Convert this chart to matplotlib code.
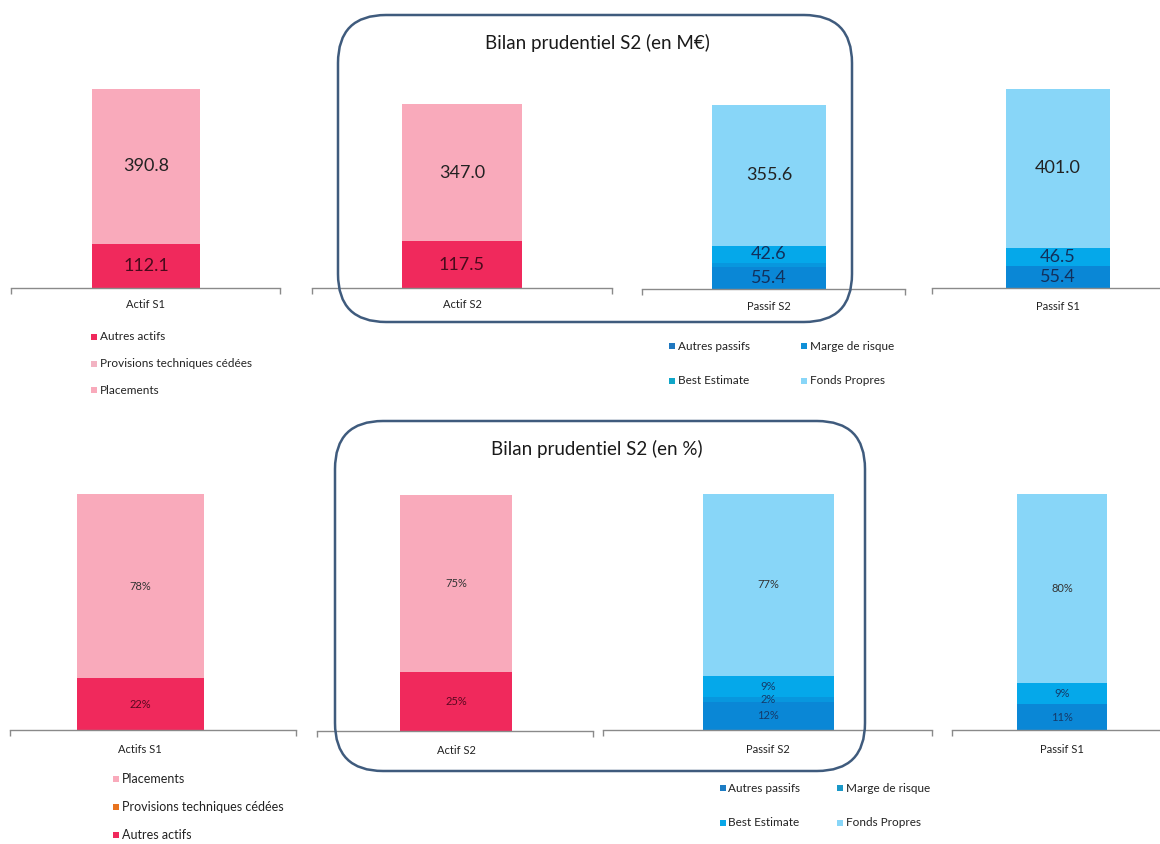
import matplotlib
matplotlib.use("Agg")
import matplotlib.pyplot as plt
from matplotlib.patches import FancyBboxPatch, Rectangle

plt.rcParams['font.family'] = ['Lato', 'DejaVu Sans']

# ---------------- data ----------------
categories_top = ["Actif S1", "Actif S2", "Passif S2", "Passif S1"]
categories_bottom = ["Actifs S1", "Actif S2", "Passif S2", "Passif S1"]

actif_series = ["Autres actifs", "Provisions techniques cédées", "Placements"]
passif_series = ["Autres passifs", "Marge de risque", "Best Estimate", "Fonds Propres"]

# M€ values (stacked bottom -> top)
actif_s1_meur = [112.1, 0.0, 390.8]
actif_s2_meur = [117.5, 0.0, 347.0]
passif_s2_meur = [55.4, 10.9, 42.6, 355.6]
passif_s1_meur = [55.4, 0.0, 46.5, 401.0]

# % values (stacked bottom -> top)
actif_s1_pct = [22, 0, 78]
actif_s2_pct = [25, 0, 75]
passif_s2_pct = [12, 2, 9, 77]
passif_s1_pct = [11, 0, 9, 80]

titles = ["Bilan prudentiel S2 (en M€)", "Bilan prudentiel S2 (en %)"]

# ---------------- styles ----------------
actif_colors_top = ["#F0295C", "#F2B3C2", "#F9AABB"]
actif_colors_bot = ["#F0295C", "#E8731E", "#F9AABB"]
passif_colors = ["#0A87D6", "#0897DE", "#05A8EA", "#88D6F8"]
actif_text = ["#4a0a1c", "#222222", "#222222"]
passif_text = ["#12305c", "#12305c", "#12305c", "#222222"]

W, H = 1160, 844
fig = plt.figure(figsize=(W / 100, H / 100), dpi=100)
fig.patch.set_facecolor("white")
AXIS_GREY = "#8a8a8a"


def make_chart(x0, x1, base_y, ymax, scale, center_px, width_px, category,
               series, values, colors, tcolors, fmt, fs, skip, cat_pad):
    height_px = ymax * scale
    ax = fig.add_axes([x0 / W, 1 - base_y / H, (x1 - x0) / W, height_px / H])
    ax.set_xlim(0, 1)
    ax.set_ylim(0, ymax)
    c = (center_px - x0) / (x1 - x0)
    w = width_px / (x1 - x0)
    bottom = 0.0
    for name, v, col, tc in zip(series, values, colors, tcolors):
        cont = ax.bar([c], [v], width=w, bottom=bottom, color=col,
                      linewidth=0, label=name)
        if v > 0 and name not in skip:
            ax.bar_label(cont, labels=[fmt(v)], label_type="center",
                         color=tc, fontsize=fs)
        bottom += v
    for s in ["top", "left", "right"]:
        ax.spines[s].set_visible(False)
    ax.spines["bottom"].set_color(AXIS_GREY)
    ax.spines["bottom"].set_linewidth(1.0)
    ax.set_yticks([])
    ax.set_xticks([c])
    ax.set_xticklabels([category], fontsize=8, color="#222222")
    ax.tick_params(axis="x", which="major", length=0, pad=cat_pad)
    ax.set_xticks([0.0, 1.0], minor=True)
    ax.tick_params(axis="x", which="minor", length=4, color=AXIS_GREY,
                   direction="out", width=1.0)
    ax.patch.set_alpha(0)
    return ax


fmt_m = lambda v: f"{v:.1f}"
fmt_p = lambda v: f"{v:.0f}%"

# ---------- top row (M€) ----------
TS = 0.396  # px per M€
make_chart(11, 280, 288, 520, TS, 146, 108, categories_top[0], actif_series,
           actif_s1_meur, actif_colors_top, actif_text, fmt_m, 13, [], 8)
make_chart(312, 612, 288, 520, TS, 462, 120, categories_top[1], actif_series,
           actif_s2_meur, actif_colors_top, actif_text, fmt_m, 13, [], 8)
make_chart(642, 905, 289, 520, TS, 769, 114, categories_top[2], passif_series,
           passif_s2_meur, passif_colors, passif_text, fmt_m, 13,
           ["Marge de risque"], 9)
make_chart(932, 1172, 288, 520, TS, 1058, 104, categories_top[3], passif_series,
           passif_s1_meur, passif_colors, passif_text, fmt_m, 13,
           ["Marge de risque"], 9)

# ---------- bottom row (%) ----------
BS = 2.36  # px per %
make_chart(10, 296, 730, 100, BS, 140, 127, categories_bottom[0], actif_series,
           actif_s1_pct, actif_colors_bot, ["#5a0820", "#222222", "#333333"],
           fmt_p, 8, [], 10)
make_chart(317, 593, 731, 100, BS, 456, 112, categories_bottom[1], actif_series,
           actif_s2_pct, actif_colors_bot, ["#5a0820", "#222222", "#333333"],
           fmt_p, 8, [], 10)
make_chart(603, 932, 730, 100, BS, 768, 131, categories_bottom[2], passif_series,
           passif_s2_pct, passif_colors, ["#153a6a"] * 3 + ["#333333"],
           fmt_p, 8, [], 10)
make_chart(952, 1172, 730, 100, BS, 1062, 90, categories_bottom[3], passif_series,
           passif_s1_pct, passif_colors, ["#153a6a"] * 3 + ["#333333"],
           fmt_p, 8, [], 10)

# ---------- overlay: boxes, titles, legends ----------
ov = fig.add_axes([0, 0, 1, 1], zorder=10)
ov.set_xlim(0, W)
ov.set_ylim(H, 0)
ov.axis("off")
ov.patch.set_alpha(0)

BOX = "#3F5B7D"
ov.add_patch(FancyBboxPatch((338, 15), 514, 307,
                            boxstyle="round,pad=0,rounding_size=48",
                            fill=False, edgecolor=BOX, linewidth=1.8))
ov.add_patch(FancyBboxPatch((335, 421), 530, 350,
                            boxstyle="round,pad=0,rounding_size=48",
                            fill=False, edgecolor=BOX, linewidth=1.8))
ov.text(597, 43, titles[0], ha="center", va="center", fontsize=13.5,
        color="#1a1a1a")
ov.text(597, 449, titles[1], ha="center", va="center", fontsize=13.5,
        color="#1a1a1a")


def legend_item(x, y, color, label, fs, sq=6):
    ov.add_patch(Rectangle((x - sq / 2, y - sq / 2), sq, sq, color=color,
                           linewidth=0))
    ov.text(x + sq / 2 + 2.5, y, label, ha="left", va="center", fontsize=fs,
            color="#222222")


# top-left legend (series order as listed)
for i, (name, col) in enumerate(zip(actif_series, actif_colors_top)):
    legend_item(94, 337 + 26.5 * i, col, name, 8.5)

# bottom-left legend (reversed order)
for i, (name, col) in enumerate(zip(actif_series[::-1], actif_colors_bot[::-1])):
    legend_item(116, 779 + 28 * i, col, name, 9)

# top-right legend (2 columns)
top_leg_cols = ["#1F78C0", "#1090D8", "#10A6C8", "#88D6F8"]
for i, (name, col) in enumerate(zip(passif_series, top_leg_cols)):
    legend_item(672 + 132 * (i % 2), 346 + 35 * (i // 2), col, name, 8.5)

bot_leg_cols = ["#1C7CC4", "#1A98C8", "#0AA7E8", "#88D6F8"]
for i, (name, col) in enumerate(zip(passif_series, bot_leg_cols)):
    legend_item(723 + 117 * (i % 2), 788 + 35 * (i // 2), col, name, 8.5)

fig.savefig("out.png", dpi=100, facecolor="white")
